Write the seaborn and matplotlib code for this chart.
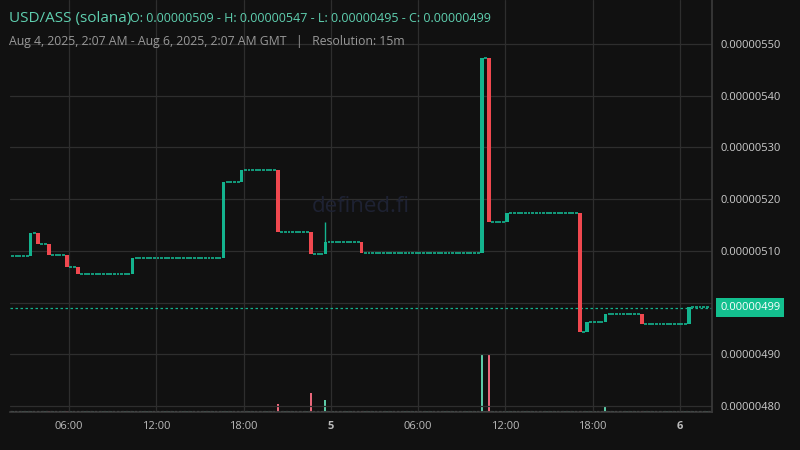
import numpy as np
import pandas as pd
import matplotlib
matplotlib.use("Agg")
import matplotlib.pyplot as plt
import seaborn as sns

# ---- data (prices in units of 1e-8) ----
start_price = 509.0
n_candles = 192
# candles with price change: index, open, high, low, close
move_idx   = [5,     7,     10,    15,    18,    33,    58,    63,    73,    82,    86,    96,    129,   131,   136,   156,   158,   163,   173,   186]
move_open  = [509.0, 513.4, 511.3, 509.1, 506.8, 505.6, 508.6, 523.3, 525.6, 513.6, 509.4, 511.8, 509.5, 547.2, 515.5, 517.3, 494.4, 496.2, 497.8, 495.8]
move_close = [513.4, 511.3, 509.1, 506.8, 505.6, 508.6, 523.3, 525.6, 513.6, 509.4, 511.8, 509.6, 547.2, 515.5, 517.3, 494.4, 496.2, 497.8, 495.8, 499.1]
move_high  = [513.4, 513.4, 511.3, 509.1, 506.8, 508.6, 523.3, 525.6, 525.6, 513.6, 515.6, 511.8, 547.2, 547.2, 517.3, 517.3, 496.2, 497.8, 497.8, 499.1]
# volume spikes: index, value
vol_idx = [73, 82, 86, 129, 131, 163]
vol_val = [8, 19, 12, 58, 58, 6]
base_volume = 0.8
tick_hours = [6, 12, 18, 24, 30, 36, 42, 48]
tick_labels = ["06:00", "12:00", "18:00", "5", "06:00", "12:00", "18:00", "6"]
yticks = [480, 490, 500, 510, 520, 530, 540, 550]
last_price = 499.0

# build full candle table (no-trade candles stay at previous close)
opens, closes, highs = [], [], []
p = start_price
mv = dict(zip(move_idx, zip(move_open, move_close, move_high)))
for i in range(n_candles):
    if i in mv:
        o, c, h = mv[i]
    else:
        o, c, h = p, p, p
    opens.append(o); closes.append(c); highs.append(h); p = c
vols = [base_volume] * n_candles
for i, v in zip(vol_idx, vol_val):
    vols[i] = v
df = pd.DataFrame({"t": 2.125 + 0.25 * np.arange(n_candles), "o": opens, "c": closes, "h": highs, "v": vols})
df["up"] = df["c"] >= df["o"]

sns.set_theme(style="dark")
plt.rcParams['font.family'] = ['Open Sans', 'DejaVu Sans']
bg = "#111111"
green, red = "#14b38e", "#f0484f"
fig = plt.figure(figsize=(8, 4.5), dpi=100, facecolor=bg)
ax = fig.add_axes([0.0125, 0.084, 0.8775, 0.916], facecolor=bg)
ax.set_xlim(1.95, 50.2)
ax.set_ylim(478.8, 558.5)

# volume on twin axis
axv = ax.twinx()
axv.set_ylim(0, 412)
vcol = [("#5cc9a7" if u else "#e8677a") for u in df["up"]]
axv.bar(df["t"], df["v"], width=0.14, color=vcol, lw=0, edgecolor="none", zorder=2)
axv.axhline(0.8, color="#888888", lw=0.8, ls=(0, (2, 2)))
axv.set_yticks([]); axv.grid(False)
for s in axv.spines.values():
    s.set_visible(False)

ax.set_zorder(axv.get_zorder() + 1); ax.patch.set_visible(False)
fig.add_artist(plt.Rectangle((0.0125, 0.084), 0.8775, 0.916, transform=fig.transFigure, color=bg, zorder=-10))

# candles
for _, r in df.iterrows():
    col = green if r.up else red
    lo, hi = min(r.o, r.c), max(r.o, r.c)
    if hi - lo < 0.15:
        ax.hlines(r.o, r.t - 0.1, r.t + 0.1, color=col, lw=1.2, zorder=3)
    else:
        ax.bar(r.t, hi - lo, bottom=lo, width=0.24, color=col, lw=0, edgecolor="none", zorder=3)
    if r.h > hi + 0.2:
        ax.vlines(r.t, hi, r.h, color=col, lw=1, zorder=3)

ax.axhline(last_price, color=green, lw=0.9, ls=(0, (2, 2)), zorder=2)

ax.set_xticks(tick_hours)
ax.set_xticklabels(tick_labels, color="#bbbbbb", fontsize=8)
for lab, t in zip(ax.get_xticklabels(), tick_labels):
    if t in ("5", "6"):
        lab.set_fontweight("bold")
ax.set_yticks(yticks)
ax.yaxis.tick_right()
ax.set_yticklabels([f"{v/1e8:.8f}" for v in yticks], color="#cccccc", fontsize=8)
ax.tick_params(length=0, pad=6)
ax.grid(True, color="#2e2e2e", lw=0.9)
for k, s in ax.spines.items():
    s.set_visible(k in ("right", "bottom"))
    s.set_color("#3a3a3a")

ax.annotate(f"{last_price/1e8:.8f}", xy=(1.0, last_price), xycoords=("axes fraction", "data"),
            xytext=(6, 0), textcoords="offset points",
            color="white", fontsize=8, va="center", ha="left",
            bbox=dict(boxstyle="square,pad=0.35", fc="#13c08f", ec="none"), zorder=10, annotation_clip=False)

ax.text(0.5, 0.5, "defined.fi", transform=ax.transAxes, color="#1e2233", fontsize=16, ha="center", va="center", zorder=1)

fig.text(0.011, 0.958, "USD/ASS (solana)", color="#5fd0b0", fontsize=11, va="center")
fig.text(0.163, 0.958, "O: 0.00000509 - H: 0.00000547 - L: 0.00000495 - C: 0.00000499", color="#5fd0b0", fontsize=9, va="center")
fig.text(0.011, 0.908, "Aug 4, 2025, 2:07 AM - Aug 6, 2025, 2:07 AM GMT   |   Resolution: 15m", color="#999999", fontsize=8.8, va="center")

fig.savefig("out.png", dpi=100, facecolor=bg)
